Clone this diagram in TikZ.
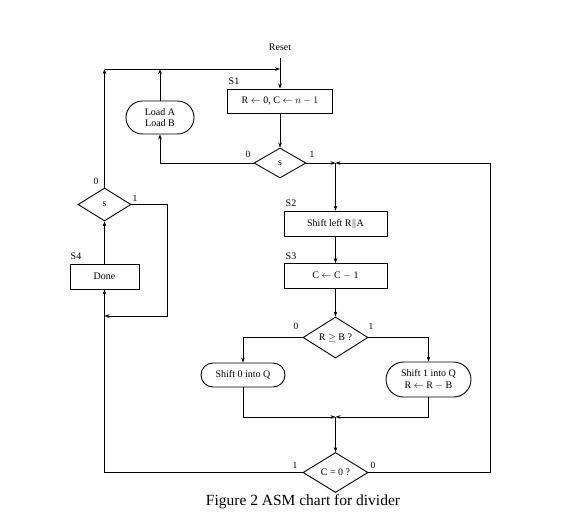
\documentclass[tikz,border=0pt]{standalone}
\usepackage{fontspec}
\setmainfont{Liberation Serif}
\usetikzlibrary{shapes.geometric,shapes.misc,arrows.meta}
\begin{document}
\begin{tikzpicture}[x=1pt,y=-1pt,
  txt/.style={font=\fontsize{10}{11.5}\selectfont},
  stbox/.style={txt,draw,line width=0.9pt,minimum width=103pt,minimum height=25pt,inner sep=1pt},
  cbox/.style={txt,draw,line width=0.9pt,rounded rectangle,align=center,inner sep=1pt},
  dia/.style={txt,draw,line width=0.9pt,diamond,inner sep=0pt},
  lbl/.style={font=\fontsize{9.5}{10}\selectfont,inner sep=0pt},
  arr/.style={-{Stealth[length=5pt,width=3.6pt]},line width=0.6pt}]
\useasboundingbox (0,0) rectangle (567,528);

\node[txt] (reset) at (280,47) {Reset};
\node[stbox,minimum width=105pt,minimum height=24pt] (S1) at (280,101) {R $\leftarrow$ 0, C $\leftarrow$ $n-1$};
\node[lbl,font=\fontsize{10}{11}\selectfont] (S1l) at (234,81) {S1};
\node[cbox,minimum width=70pt,minimum height=33pt] (LAB) at (160,117.5) {Load A\\Load B};
\node[dia,minimum width=52pt,minimum height=30pt] (d1) at (280,163) {s};
\node[lbl] (d1z) at (248,154) {0};
\node[lbl] (d1o) at (312,154) {1};

\node[stbox] (S2) at (335.5,223.5) {Shift left R$\|$A};
\node[lbl,font=\fontsize{10}{11}\selectfont] (S2l) at (291,203) {S2};
\node[stbox] (S3) at (335.5,276) {C $\leftarrow$ C $-$ 1};
\node[lbl,font=\fontsize{10}{11}\selectfont] (S3l) at (291,256) {S3};

\node[dia,minimum width=65pt,minimum height=41pt] (d2) at (335.5,337.5) {R $\geq$ B ?};
\node[lbl] (d2z) at (296,326) {0};
\node[lbl] (d2o) at (371,326) {1};
\node[cbox,minimum width=86pt,minimum height=24pt] (Q0) at (243,375) {Shift 0 into Q};
\node[cbox,minimum width=87pt,minimum height=35pt] (Q1) at (428.5,379.5) {Shift 1 into Q\\R $\leftarrow$ R $-$ B};

\node[dia,minimum width=65pt,minimum height=40pt] (d3) at (335.5,472.5) {C = 0 ?};
\node[lbl] (d3o) at (295,465) {1};
\node[lbl] (d3z) at (373,465) {0};

\node[dia,minimum width=53pt,minimum height=33pt] (d4) at (104.5,204.5) {s};
\node[lbl] (d4z) at (96,181) {0};
\node[lbl] (d4o) at (135,198) {1};
\node[stbox,minimum width=69pt,minimum height=25pt] (S4) at (104.5,276.5) {Done};
\node[lbl,font=\fontsize{10}{11}\selectfont] (S4l) at (76,256) {S4};

\node[font=\fontsize{15.5}{18}\selectfont] (cap) at (303,502) {Figure 2 ASM chart for divider};

\coordinate (top) at (280,69);
\coordinate (j1) at (335.5,163);
\coordinate (rb) at (490,472.5);
\coordinate (rt) at (490,163);
\coordinate (j2) at (335.5,417);
\coordinate (lr) at (167,204.5);
\coordinate (lb) at (167,316);
\coordinate (lj) at (104.5,316);

\draw[arr] (reset.south) ++(0,4) -- (S1.north);
\draw[arr] (d4.north) -- (d4.north |- top);
\draw[arr] (d4.north |- top) -- (top);
\draw[arr] (LAB.north) -- (LAB.north |- top);
\draw[arr] (S1.south) -- (d1.north);
\draw[arr] (d1.west) -| (LAB.south);
\draw[arr] (d1.east) -- (j1);
\draw[arr] (d3.east) -- (rb) -- (rt) -- (j1);
\draw[arr] (j1) -- (S2.north);
\draw[arr] (S2) -- (S3);
\draw[arr] (S3) -- (d2);
\draw[arr] (d2.west) -| (Q0.north);
\draw[arr] (d2.east) -| (Q1.north);
\draw[arr] (Q0.south) |- (j2);
\draw[arr] (Q1.south) |- (j2);
\draw[arr] (j2) -- (d3.north);
\draw[arr] (d3.west) -| (S4.south);
\draw[arr] (d4.east) -- (lr) -- (lb) -- (lj);
\draw[arr] (S4.north) -- (d4.south);
\end{tikzpicture}
\end{document}
